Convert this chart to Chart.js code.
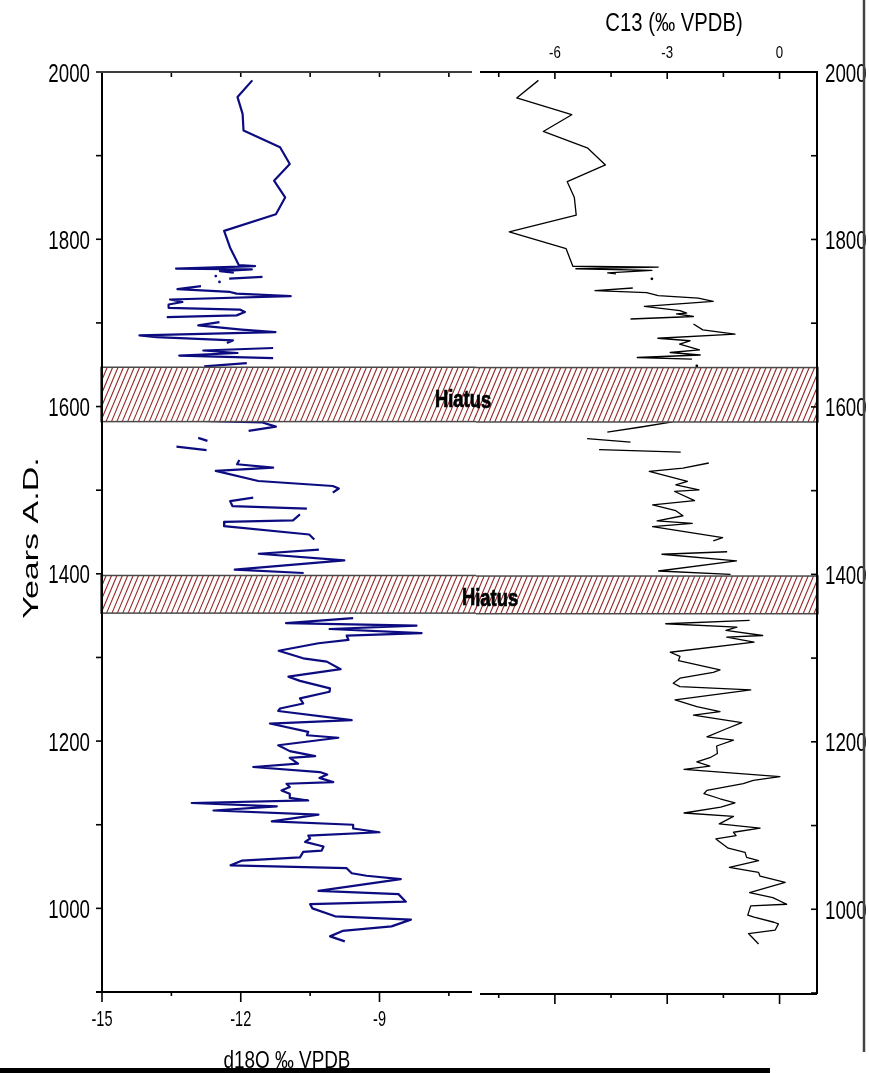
<!DOCTYPE html>
<html>
<head>
<meta charset="utf-8">
<script src="https://cdn.jsdelivr.net/npm/chart.js@4.4.1/dist/chart.umd.min.js"></script>
<style>
  html, body { margin: 0; padding: 0; background: #fff; }
  #wrap { position: relative; width: 869px; height: 1073px; overflow: hidden; background: #fff; }
  canvas { position: absolute; top: 0; }
  #left { left: 0; }
  #right { left: 476px; }
</style>
</head>
<body>
<div id="wrap">
  <canvas id="left" width="476" height="1073"></canvas>
  <canvas id="right" width="393" height="1073"></canvas>
</div>
<script>
// d18O record (null = break in the curve)
const years18O = [
  1990, 1970, 1950, 1930, 1910, 1890, 1870, 1850, 1830, 1810, 1790, 1769, 1768, 1765, 1764, 1762, 1760, null,
  1756, null,
  1755, 1753, null,
  1749, null,
  1744, 1740.5, 1737, 1735, 1732, 1728, 1725, 1722, 1718, 1716, 1713, 1709, 1707, null,
  1701, 1697, 1692, 1689, 1685, 1683, 1679, 1676, null,
  1670, 1667, 1664, 1661, 1658, null,
  1652, 1648, null,
  1583, 1581, 1576, 1571, null,
  1562.5, 1559, null,
  1552, 1548, null,
  1536, 1531, 1527, 1523, 1511, 1505, 1502, 1497, null,
  1491, 1487, 1481, 1478, null,
  1471, 1464, 1462, 1457, 1447, 1441, null,
  1429, 1424, 1416, 1405, 1401, null,
  1347, 1341, 1338, 1334, 1329, 1326, 1321, 1317, 1308, 1299, 1295, 1286, 1277, 1272, 1263, 1259,
  1251, 1245, 1239, 1236, 1225, 1221, 1211, 1207, 1204, 1195, 1188, 1182, 1180, 1173, 1169, 1163,
  1160, 1156, 1151, 1149, 1145, 1141, 1137, 1132, 1129, 1126, 1122, 1117, 1112, 1104, 1100, 1095.5,
  1091, 1087, 1083.5, 1079.5, 1074, 1069, 1067.5, 1061, 1057, 1051.5, 1048, 1042, 1039, 1035, 1021, 1017,
  1008, 1005, 1000, 990.5, 986.5, 978.5, 973, 966.5, 960.5
];
const d18O = [
  -11.75, -12.07, -11.96, -11.94, -11.15, -10.94, -11.28, -11.04, -11.24, -12.36, -12.23, -12.04, -11.69, -13.40, -11.76, -12.45, -12.15, null,
  -12.54, null,
  -11.53, -12.25, null,
  -12.46, null,
  -12.86, -13.37, -12.23, -12.09, -10.92, -13.53, -13.26, -13.56, -13.56, -12.02, -11.91, -12.09, -13.60, null,
  -12.46, -12.92, -11.98, -11.25, -14.19, -13.82, -12.17, -12.30, null,
  -11.30, -12.81, -12.07, -13.33, -11.30, null,
  -11.87, -12.79, null,
  -13.04, -11.53, -11.24, -11.83, null,
  -12.92, -12.72, null,
  -13.39, -12.74, null,
  -12.03, -12.08, -11.30, -12.54, -11.62, -10.01, -9.88, -10.01, null,
  -11.73, -12.23, -12.18, -10.57, null,
  -10.72, -10.87, -12.35, -12.36, -10.52, -10.41, null,
  -10.31, -11.61, -9.76, -12.13, -10.64, null,
  -9.57, -11.02, -8.20, -10.08, -8.09, -9.71, -9.67, -10.32, -11.18, -10.65, -10.14, -9.84, -10.97, -10.72, -10.07, -10.08,
  -10.72, -10.65, -11.15, -11.19, -9.60, -11.37, -10.54, -10.57, -9.89, -11.19, -10.94, -10.39, -10.94, -10.76, -11.73, -10.29,
  -10.13, -10.30, -10.00, -11.01, -10.94, -11.12, -10.94, -10.94, -10.54, -13.06, -11.22, -12.59, -10.32, -11.33, -9.57, -9.57,
  -9.00, -10.54, -10.50, -10.61, -10.21, -10.25, -10.65, -10.72, -11.98, -12.22, -9.71, -9.60, -9.28, -8.54, -10.32, -8.59,
  -8.43, -10.50, -10.45, -9.96, -8.32, -8.74, -9.80, -10.07, -9.75
];

// C13 record
const yearsC13 = [
  1990, 1969, 1949, 1929, 1909, 1889, 1869, 1850, 1829, 1809, 1789, 1768, 1767, 1765, 1763, 1760, 1759, null,
  1753, null,
  1742, 1739, 1736.5, 1733, 1730, 1726, 1720, 1715, 1712, 1711, 1708, 1705, null,
  1699, 1692, 1687, 1682, 1679, 1675, 1668, 1665, 1662, 1659, 1657, null,
  1649, null,
  1582, 1576, 1570, null,
  1562, 1558, null,
  1549, 1546, null,
  1533, 1527, 1523, 1511, 1507, 1501, 1499, 1488, 1483, 1476, 1470, 1464, 1461, 1457, 1444, 1440, null,
  1427, 1424, 1416, 1404, 1400, null,
  1345, 1341, 1337, 1333, 1327, 1325, 1319, 1307, 1302, 1297, 1286, 1283, 1276, 1270, 1266, 1262,
  1250, 1242, 1236, 1232, 1223, 1215, 1206, 1202, 1195, 1186, 1181, 1176, 1171, 1167, 1158.5, 1154,
  1150, 1142, 1138, 1132, 1127, 1122, 1115, 1111, 1102, 1097, 1092, 1088, 1084, 1073, 1068, 1062,
  1058, 1050, 1044, 1039.5, 1032, 1020, 1014, 1006, 1004, 993, 990.5, 984.5, 982.5, 975, 971, 958.5
];
const c13 = [
  -6.44, -7.02, -5.55, -6.31, -5.12, -4.65, -5.67, -5.48, -5.43, -7.22, -5.70, -5.52, -3.24, -5.44, -3.41, -4.59, -4.37, null,
  -3.41, null,
  -3.92, -4.93, -3.55, -3.24, -2.17, -1.77, -3.61, -2.66, -2.48, -2.75, -2.30, -3.98, null,
  -2.30, -2.05, -1.19, -3.25, -2.39, -2.67, -2.14, -2.92, -2.12, -3.80, -2.34, null,
  -2.21, null,
  -2.86, -3.70, -4.60, null,
  -5.14, -3.98, null,
  -4.82, -2.64, null,
  -1.89, -2.58, -3.48, -2.46, -2.77, -2.15, -2.80, -2.27, -3.39, -2.77, -2.58, -3.27, -2.33, -3.39, -1.52, -1.77, null,
  -1.40, -3.14, -1.15, -3.23, -1.31, null,
  -0.80, -3.04, -1.14, -1.43, -0.45, -1.41, -0.68, -2.92, -2.66, -2.70, -1.59, -1.77, -2.66, -2.84, -2.66, -0.77,
  -2.79, -2.21, -1.59, -2.30, -1.01, -1.45, -1.94, -1.23, -1.68, -1.66, -1.86, -2.21, -1.86, -2.55, 0.01, -0.70,
  -0.97, -1.94, -2.02, -1.59, -1.19, -1.57, -2.55, -1.23, -1.61, -0.52, -1.23, -1.16, -1.70, -1.37, -0.92, -0.88,
  -0.56, -1.34, -0.56, -0.52, 0.15, -0.80, -0.18, 0.19, -0.77, -0.85, -0.68, -0.15, -0.03, -0.12, -0.83, -0.56
];

// hiatus intervals (years A.D.)
const hiatusFrom = [1582, 1353];
const hiatusTo = [1647, 1398];
const hiatusText = ['Hiatus', 'Hiatus'];

// ticks
const yearLabels = [1000, 1200, 1400, 1600, 1800, 2000];
const yearTicks = [900, 1000, 1100, 1200, 1300, 1400, 1500, 1600, 1700, 1800, 1900, 2000];
const d18OLabels = [-15, -12, -9];
const d18OTicks = [-15, -13.5, -12, -10.5, -9, -7.5];
const c13Labels = [-6, -3, 0];
const c13Ticks = [-7.5, -6, -4.5, -3, -1.5, 0];

const sans = "'Liberation Sans', Arial, sans-serif";

function toPoints(years, vals) {
  return years.map((y, i) => ({ x: vals[i], y: y }));
}

// points with no neighbours are drawn as small dots
function isolatedRadius(ctx) {
  const d = ctx.dataset.data, i = ctx.dataIndex;
  const gap = p => !p || p.x === null;
  return gap(d[i - 1]) && gap(d[i + 1]) ? 1.4 : 0;
}

function line(ctx, x1, y1, x2, y2) {
  ctx.beginPath();
  ctx.moveTo(x1, y1);
  ctx.lineTo(x2, y2);
  ctx.stroke();
}

// the figure's lettering is horizontally condensed, so text is drawn with a scale
function text(ctx, str, x, y, o) {
  ctx.save();
  ctx.translate(x, y);
  if (o.rot) ctx.rotate(o.rot);
  ctx.scale(o.sx || 1, o.sy || 1);
  ctx.font = o.font;
  ctx.textAlign = o.align || 'center';
  ctx.textBaseline = 'alphabetic';
  ctx.fillStyle = '#000';
  ctx.fillText(str, 0, 0);
  if (o.bold) {
    ctx.strokeStyle = '#000';
    ctx.lineWidth = o.bold;
    ctx.strokeText(str, 0, 0);
  }
  ctx.restore();
}

// hatched hiatus bands, axes with their tick marks, and all lettering
const paper = {
  id: 'paper',
  afterDatasetsDraw(chart, args, o) {
    const ctx = chart.ctx;
    const y = chart.scales.y;
    ctx.save();
    ctx.translate(-o.offset, 0);
    hiatusFrom.forEach((from, i) => {
      const top = y.getPixelForValue(hiatusTo[i]);
      const bottom = y.getPixelForValue(from);
      const h = bottom - top;
      ctx.save();
      ctx.fillStyle = '#fff';
      ctx.fillRect(o.bandFrom, top, o.bandTo - o.bandFrom, h);
      ctx.beginPath();
      ctx.rect(o.bandFrom, top, o.bandTo - o.bandFrom, h);
      ctx.clip();
      ctx.strokeStyle = '#962626';
      ctx.lineWidth = 1.1;
      for (let x = o.bandFrom - h; x < o.bandTo + 2; x += 5.4) {
        line(ctx, x, bottom, x + h * 0.42, top);
      }
      ctx.restore();
      ctx.strokeStyle = '#4a4a4a';
      ctx.lineWidth = 1.5;
      ctx.strokeRect(o.bandFrom, top, o.bandTo - o.bandFrom, h);
      const [lx, dy] = o.labels[i];
      text(ctx, hiatusText[i], lx, (top + bottom) / 2 + dy, { font: 'bold 23px ' + sans, sx: 0.8, bold: 0.7 });
    });
    ctx.restore();
  },
  afterDraw(chart, args, o) {
    const ctx = chart.ctx;
    const { left, right, top, bottom } = chart.chartArea;
    const x = chart.scales.x, y = chart.scales.y;
    const yFont = { font: '26px ' + sans, sx: 0.72 };
    ctx.save();
    ctx.strokeStyle = '#000';
    ctx.lineWidth = 1.6;
    if (o.side === 'left') {
      yearTicks.forEach(v => { const py = y.getPixelForValue(v); line(ctx, left - 6, py, left, py); });
      d18OTicks.forEach(v => {
        const px = x.getPixelForValue(v);
        if (v > -15) line(ctx, px, top, px, top + 5);
        line(ctx, px, bottom, px, bottom + (d18OLabels.includes(v) ? 10 : 4));
      });
      ctx.lineWidth = 2;
      line(ctx, left, top, left, bottom);
      line(ctx, left - 6, bottom, right, bottom);
      ctx.strokeStyle = '#3c3c3c';
      line(ctx, left - 6, top, right, top);
      yearLabels.forEach(v => text(ctx, String(v), left - 12, y.getPixelForValue(v) + 9.5, { ...yFont, align: 'right' }));
      d18OLabels.forEach(v => text(ctx, String(v), x.getPixelForValue(v), bottom + 34, { font: '22px ' + sans, sx: 0.66 }));
      text(ctx, 'd18O ‰ VPDB', (left + right) / 2, 1068, { font: '23px ' + sans, sx: 0.82 });
      text(ctx, 'Years A.D.', 38, 538, { font: '34px ' + sans, sy: 0.64, rot: -Math.PI / 2 });
    } else {
      yearTicks.forEach(v => { const py = y.getPixelForValue(v); line(ctx, right - 6, py, right, py); });
      c13Ticks.forEach(v => {
        const px = x.getPixelForValue(v);
        line(ctx, px, top, px, top + (c13Labels.includes(v) ? 7 : 5));
        line(ctx, px, bottom + 1, px, bottom + 1 + (c13Labels.includes(v) ? 10 : 4));
      });
      ctx.lineWidth = 2;
      line(ctx, left, top, right + 1, top);
      line(ctx, right, top, right, bottom + 1);
      line(ctx, left, bottom + 1, right, bottom + 1);
      yearLabels.forEach(v => text(ctx, String(v), right + 8, y.getPixelForValue(v) + 9.5, { ...yFont, align: 'left' }));
      c13Labels.forEach(v => text(ctx, String(v), x.getPixelForValue(v), top - 14, { font: '17px ' + sans, sx: 0.78 }));
      text(ctx, 'C13 (‰ VPDB)', 674 - o.offset, 31, { font: '25px ' + sans, sx: 0.81 });
      // page border at the right
      ctx.strokeStyle = '#444';
      ctx.lineWidth = 2.5;
      line(ctx, 864 - o.offset, 0, 864 - o.offset, 1052);
    }
    // black bar along the bottom of the page
    ctx.fillStyle = '#000';
    ctx.fillRect(-o.offset, 1068, 770, 6);
    ctx.restore();
  }
};

const base = {
  responsive: false,
  animation: false,
  devicePixelRatio: 1,
  events: [],
  plugins: { legend: { display: false }, tooltip: { enabled: false } }
};

function hidden(extra) {
  return {
    type: 'linear',
    grid: { display: false, drawTicks: false }, border: { display: false },
    ticks: { display: false },
    ...extra
  };
}

new Chart(document.getElementById('left'), {
  type: 'scatter',
  data: {
    datasets: [{
      data: toPoints(years18O, d18O),
      showLine: true, spanGaps: false,
      borderColor: '#0c0c80', backgroundColor: '#0c0c80',
      borderWidth: 2.2, borderJoinStyle: 'round',
      pointRadius: isolatedRadius, pointBorderWidth: 0
    }]
  },
  options: {
    ...base,
    layout: { padding: { top: 72, right: 4, left: 0, bottom: 0 } },
    plugins: { ...base.plugins, paper: { side: 'left', offset: 0, bandFrom: 101, bandTo: 818, labels: [[463, 13], [490, 11]] } },
    scales: {
      x: hidden({ position: 'bottom', min: -15, max: -7, afterFit: s => { s.height = 81; } }),
      y: hidden({ position: 'left', min: 900, max: 2000, afterFit: s => { s.width = 102; } })
    }
  },
  plugins: [paper]
});

new Chart(document.getElementById('right'), {
  type: 'scatter',
  data: {
    datasets: [{
      data: toPoints(yearsC13, c13),
      showLine: true, spanGaps: false,
      borderColor: '#000', backgroundColor: '#000',
      borderWidth: 1.3, borderJoinStyle: 'round',
      pointRadius: isolatedRadius, pointBorderWidth: 0
    }]
  },
  options: {
    ...base,
    layout: { padding: { top: 0, right: 0, left: 4, bottom: 80 } },
    plugins: { ...base.plugins, paper: { side: 'right', offset: 476, bandFrom: 101, bandTo: 818, labels: [[463, 13], [490, 11]] } },
    scales: {
      x: hidden({ position: 'top', min: -8, max: 1, afterFit: s => { s.height = 72; } }),
      y: hidden({ position: 'right', min: 900, max: 2000, afterFit: s => { s.width = 52; } })
    }
  },
  plugins: [paper]
});
</script>
</body>
</html>
